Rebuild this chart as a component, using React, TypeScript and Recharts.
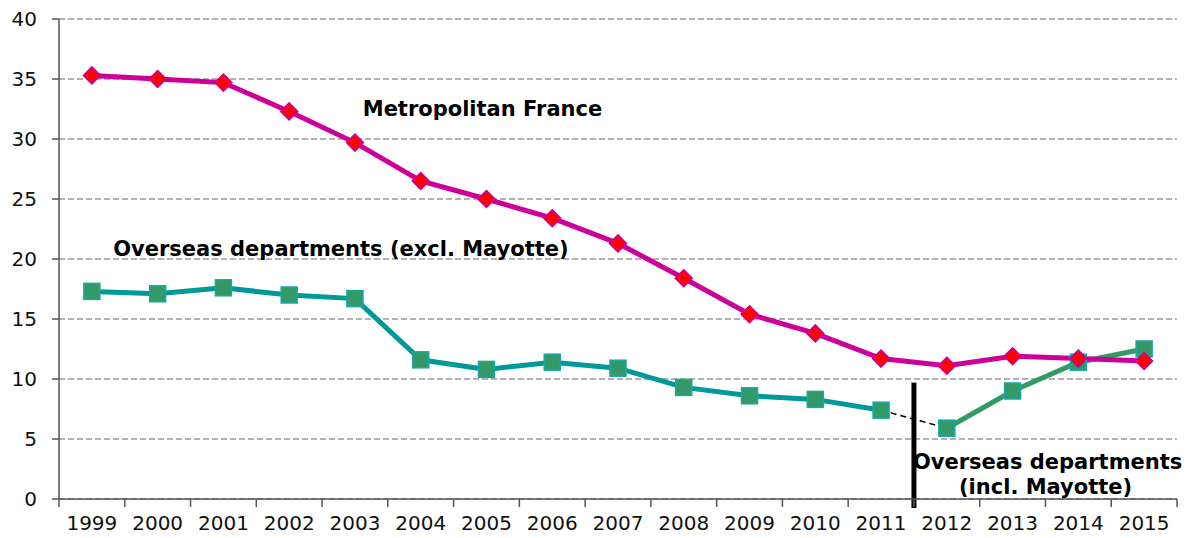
import React from 'react';
import { LineChart, Line, XAxis, YAxis, CartesianGrid, ReferenceLine, ReferenceDot } from 'recharts';

const years = ['1999', '2000', '2001', '2002', '2003', '2004', '2005', '2006', '2007', '2008', '2009', '2010', '2011', '2012', '2013', '2014', '2015'];
const metropolitan = [35.3, 35.0, 34.7, 32.3, 29.7, 26.5, 25.0, 23.4, 21.3, 18.4, 15.4, 13.8, 11.7, 11.1, 11.9, 11.7, 11.5];
const overseasExcl = [17.3, 17.1, 17.6, 17.0, 16.7, 11.6, 10.8, 11.4, 10.9, 9.3, 8.6, 8.3, 7.4, null, null, null, null];
const overseasIncl = [null, null, null, null, null, null, null, null, null, null, null, null, null, 5.9, 9.0, 11.4, 12.5];
const yTicks = [0, 5, 10, 15, 20, 25, 30, 35, 40];

const data = years.map((year, i) => ({
  year,
  metro: metropolitan[i],
  excl: overseasExcl[i],
  incl: overseasIncl[i],
  // dashed link between the two overseas series
  link: year === '2011' ? overseasExcl[i] : year === '2012' ? overseasIncl[i] : null,
}));

const W = 1191;
const H = 538;
const M = { top: 19, right: 14, left: 0, bottom: 0 };
const Y_W = 59;
const BAND = (W - M.right - Y_W) / years.length;
const FONT = '"DejaVu Sans", Verdana, sans-serif';

const YearTick = (props: any) => {
  const { x, y, payload, index } = props;
  const left = x - BAND / 2;
  return (
    <g>
      <line x1={left} y1={y - 8} x2={left} y2={y} stroke="#555" strokeWidth={1.5} />
      {index === years.length - 1 && (
        <line x1={left + BAND} y1={y - 8} x2={left + BAND} y2={y} stroke="#555" strokeWidth={1.5} />
      )}
      <text x={x} y={y + 23} textAnchor="middle" fill="#111" fontSize={20} fontFamily={FONT}>
        {payload.value}
      </text>
    </g>
  );
};

const Diamond = (props: any) => {
  const { cx, cy } = props;
  if (cx == null || cy == null) return null;
  const r = 8.5;
  return (
    <path
      d={`M${cx},${cy - r}L${cx + r},${cy}L${cx},${cy + r}L${cx - r},${cy}Z`}
      fill="#ff0000"
      stroke="#cc0099"
      strokeWidth={1.5}
    />
  );
};

const Square = (props: any) => {
  const { cx, cy } = props;
  if (cx == null || cy == null) return null;
  const s = 8;
  return <rect x={cx - s} y={cy - s} width={s * 2} height={s * 2} fill="#339966" stroke="#1aa6a6" strokeWidth={1.5} />;
};

const labelStyle = { fill: '#000', fontSize: 21, fontWeight: 'bold', fontFamily: FONT };

export default function App() {
  return (
    <div style={{ position: 'absolute', left: 0, top: 0, background: '#fff' }}>
      <LineChart width={W} height={H} data={data} margin={M}>
        <CartesianGrid vertical={false} stroke="#999" strokeDasharray="6 3" strokeWidth={1.5} />
        <XAxis
          dataKey="year"
          scale="band"
          height={39}
          tickLine={false}
          axisLine={{ stroke: '#555', strokeWidth: 1.5 }}
          tick={<YearTick />}
          interval={0}
        />
        <YAxis
          width={Y_W}
          domain={[0, 40]}
          ticks={yTicks}
          tickSize={7}
          tickMargin={15}
          axisLine={{ stroke: '#555', strokeWidth: 1.5 }}
          tickLine={{ stroke: '#555', strokeWidth: 1.5 }}
          tick={{ fill: '#111', fontSize: 20, fontFamily: FONT }}
        />
        <Line dataKey="link" stroke="#000" strokeWidth={1.5} strokeDasharray="6 4" dot={false} isAnimationActive={false} />
        <Line dataKey="excl" stroke="#009999" strokeWidth={5} dot={<Square />} isAnimationActive={false} />
        <Line dataKey="incl" stroke="#339966" strokeWidth={5} dot={<Square />} isAnimationActive={false} />
        <Line dataKey="metro" stroke="#cc0099" strokeWidth={5} dot={<Diamond />} isAnimationActive={false} />
        <ReferenceLine
          segment={[{ x: '2012', y: 9.7 }, { x: '2012', y: -0.75 }]}
          position="start"
          stroke="#000"
          strokeWidth={5}
          ifOverflow="visible"
        />
        <ReferenceDot x="2005" y={32.5} r={0} fill="none" stroke="none" label={{ value: 'Metropolitan France', position: 'center', dx: -4, ...labelStyle }} />
        <ReferenceDot x="2003" y={20.9} r={0} fill="none" stroke="none" label={{ value: 'Overseas departments (excl. Mayotte)', position: 'center', dx: -14, ...labelStyle }} />
        <ReferenceDot x="2013" y={3.1} r={0} fill="none" stroke="none" ifOverflow="visible" label={{ value: 'Overseas departments', position: 'center', dx: 35, ...labelStyle }} />
        <ReferenceDot x="2013" y={1.0} r={0} fill="none" stroke="none" ifOverflow="visible" label={{ value: '(incl. Mayotte)', position: 'center', dx: 33, ...labelStyle }} />
      </LineChart>
    </div>
  );
}
